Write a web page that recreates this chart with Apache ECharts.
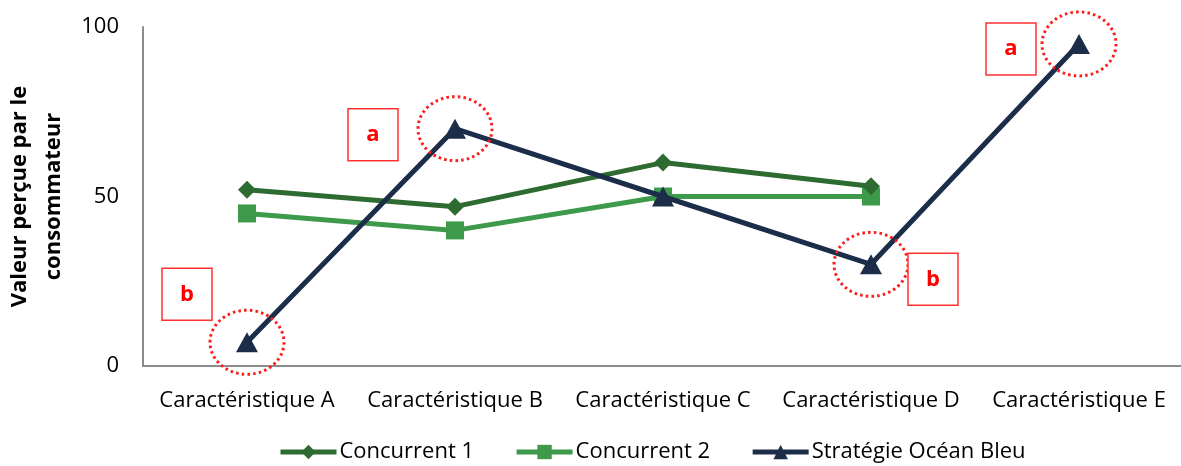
<!DOCTYPE html>
<html>
<head>
<meta charset="utf-8">
<script src="https://cdn.jsdelivr.net/npm/echarts@6/dist/echarts.min.js"></script>
<style>html,body{margin:0;padding:0;background:#fff;}#c{width:1181px;height:466px;}</style>
</head>
<body>
<div id="c"></div>
<script>
const categories = ['Caractéristique A', 'Caractéristique B', 'Caractéristique C', 'Caractéristique D', 'Caractéristique E'];
const concurrent1 = [52, 47, 60, 53, null];
const concurrent2 = [45, 40, 50, 50, null];
const oceanBleu = [7, 70, 50, 30, 95];
const yTicks = [0, 50, 100];
const yTitle = 'Valeur perçue par le\nconsommateur';
// annotations on the Océan Bleu series: category index and letter
const annotationCats = [0, 1, 3, 4];
const annotationLetters = ['b', 'a', 'b', 'a'];

const FONT = '"Open Sans", sans-serif';
const boxOffsets = [[-60, -48], [-82, 6], [62, 15], [-68, 5]];

const chart = echarts.init(document.getElementById('c'));
const option = {
  animation: false,
  backgroundColor: '#fff',
  textStyle: { fontFamily: FONT },
  grid: { left: 143, right: -2, top: 27, bottom: 100, containLabel: false, outerBoundsMode: 'none' },
  legend: {
    top: 436,
    left: 273,
    itemWidth: 56,
    itemHeight: 18,
    itemGap: 40,
    lineStyle: { width: 5 },
    textStyle: { fontSize: 22, color: '#000', fontFamily: FONT, padding: [0, 0, 0, -2] },
    data: ['Concurrent 1', 'Concurrent 2', 'Stratégie Océan Bleu']
  },
  xAxis: {
    type: 'category',
    data: categories,
    boundaryGap: true,
    axisLine: { lineStyle: { color: '#8c8c8c', width: 2 } },
    axisTick: { show: false },
    axisLabel: { fontSize: 22, color: '#000', margin: 24, interval: 0, hideOverlap: false, fontFamily: FONT }
  },
  yAxis: {
    type: 'value',
    min: yTicks[0],
    max: yTicks[yTicks.length - 1],
    interval: 50,
    axisLine: { show: true, lineStyle: { color: '#8c8c8c', width: 2 } },
    axisTick: { show: false },
    splitLine: { show: false },
    axisLabel: { fontSize: 22, color: '#000', margin: 24, fontFamily: FONT },
    name: yTitle,
    nameLocation: 'middle',
    nameRotate: 90,
    nameGap: 65,
    nameTextStyle: { fontSize: 22, fontWeight: 'bold', color: '#000', lineHeight: 34, fontFamily: FONT }
  },
  series: [
    {
      name: 'Concurrent 1', type: 'line', data: concurrent1,
      symbol: 'diamond', symbolSize: 18,
      lineStyle: { width: 5, color: '#2e6b30' },
      itemStyle: { color: '#2e6b30' },
      connectNulls: false, z: 2
    },
    {
      name: 'Concurrent 2', type: 'line', data: concurrent2,
      symbol: 'rect', symbolSize: 18,
      lineStyle: { width: 5, color: '#3d9a4b' },
      itemStyle: { color: '#3d9a4b' },
      z: 1
    },
    {
      name: 'Stratégie Océan Bleu', type: 'line', data: oceanBleu,
      symbol: 'triangle', symbolSize: [22, 20],
      lineStyle: { width: 5, color: '#1c2d4a' },
      itemStyle: { color: '#1c2d4a' },
      z: 3
    }
  ]
};
chart.setOption(option);

const graphics = [];
annotationCats.forEach((ci, i) => {
  const p = chart.convertToPixel({ seriesIndex: 2 }, [ci, oceanBleu[ci]]);
  graphics.push({
    type: 'ellipse', z: 100,
    shape: { cx: p[0], cy: p[1], rx: 37, ry: 32 },
    style: { fill: null, stroke: '#ff1a1a', lineWidth: 3, lineDash: [2.5, 3.2] }
  });
  const bx = p[0] + boxOffsets[i][0], by = p[1] + boxOffsets[i][1];
  graphics.push({
    type: 'rect', z: 100,
    shape: { x: bx - 25, y: by - 26, width: 50, height: 52 },
    style: { fill: '#fff', stroke: '#ff3030', lineWidth: 1.5 }
  });
  graphics.push({
    type: 'text', z: 101,
    x: bx, y: by,
    style: { text: annotationLetters[i], fill: '#ff0000', font: 'bold 22px ' + FONT, align: 'center', verticalAlign: 'middle' }
  });
});
chart.setOption({ graphic: graphics });
</script>
</body>
</html>
